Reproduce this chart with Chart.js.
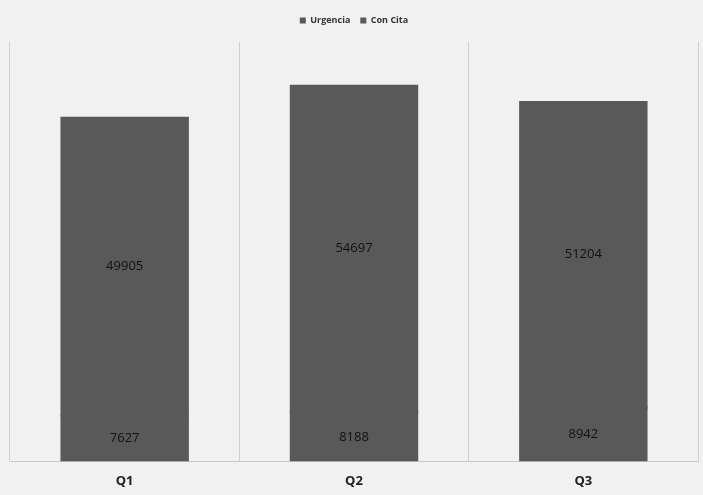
<!DOCTYPE html>
<html>
<head>
<meta charset="utf-8">
<script src="https://cdn.jsdelivr.net/npm/chart.js@4.4.1/dist/chart.umd.min.js"></script>
<style>
  html, body { margin: 0; padding: 0; background: #f1f1f1; }
  #wrap { width: 703px; height: 495px; }
</style>
</head>
<body>
<div id="wrap"><canvas id="chart" width="703" height="495"></canvas></div>
<script>
const categories = ['Q1', 'Q2', 'Q3'];
const urgencia = [7627, 8188, 8942];
const conCita = [49905, 54697, 51204];

const barColor = '#595959';

const valueLabels = {
  id: 'valueLabels',
  beforeLayout(chart) {
    // un poco más de espacio bajo la leyenda
    const lg = chart.legend;
    if (lg && !lg._extraFit) {
      const fit = lg.fit;
      lg.fit = function () { fit.call(this); this.height += 7; };
      lg._extraFit = true;
    }
  },
  afterDatasetsDraw(chart) {
    const ctx = chart.ctx;
    ctx.save();
    // tapar la costura entre los dos segmentos
    ctx.fillStyle = barColor;
    chart.getDatasetMeta(0).data.forEach(bar => {
      const p = bar.getProps(['x', 'y', 'width'], true);
      ctx.fillRect(p.x - p.width / 2, p.y - 1, p.width, 2);
    });
    // etiquetas de valor en el centro de cada segmento
    ctx.font = '13px "Open Sans", sans-serif';
    ctx.fillStyle = '#111';
    ctx.textAlign = 'center';
    ctx.textBaseline = 'middle';
    chart.data.datasets.forEach((ds, i) => {
      chart.getDatasetMeta(i).data.forEach((bar, j) => {
        const p = bar.getProps(['x', 'y', 'base'], true);
        ctx.fillText(ds.data[j], p.x, (p.y + p.base) / 2);
      });
    });
    ctx.restore();
  }
};

new Chart(document.getElementById('chart'), {
  type: 'bar',
  data: {
    labels: categories,
    datasets: [
      { label: 'Urgencia', data: urgencia, backgroundColor: barColor },
      { label: 'Con Cita', data: conCita, backgroundColor: barColor }
    ]
  },
  options: {
    responsive: false,
    animation: false,
    barPercentage: 0.56,
    categoryPercentage: 1,
    layout: { padding: { left: 10, right: 5, top: 6, bottom: -6 } },
    plugins: {
      legend: {
        position: 'top',
        labels: {
          boxWidth: 6,
          boxHeight: 6,
          padding: 10,
          color: '#333',
          font: { size: 9, weight: 'bold', family: '"Open Sans", sans-serif' }
        }
      },
      tooltip: { enabled: false }
    },
    scales: {
      x: {
        stacked: true,
        grid: { color: '#cfcfcf', drawTicks: false, offset: true },
        border: { color: '#c8c8c8' },
        ticks: {
          padding: 12,
          color: '#222',
          font: { size: 13, weight: 'bold', family: '"Open Sans", sans-serif' }
        }
      },
      y: {
        stacked: true,
        display: false,
        min: 0,
        max: 70000
      }
    }
  },
  plugins: [valueLabels]
});
</script>
</body>
</html>
